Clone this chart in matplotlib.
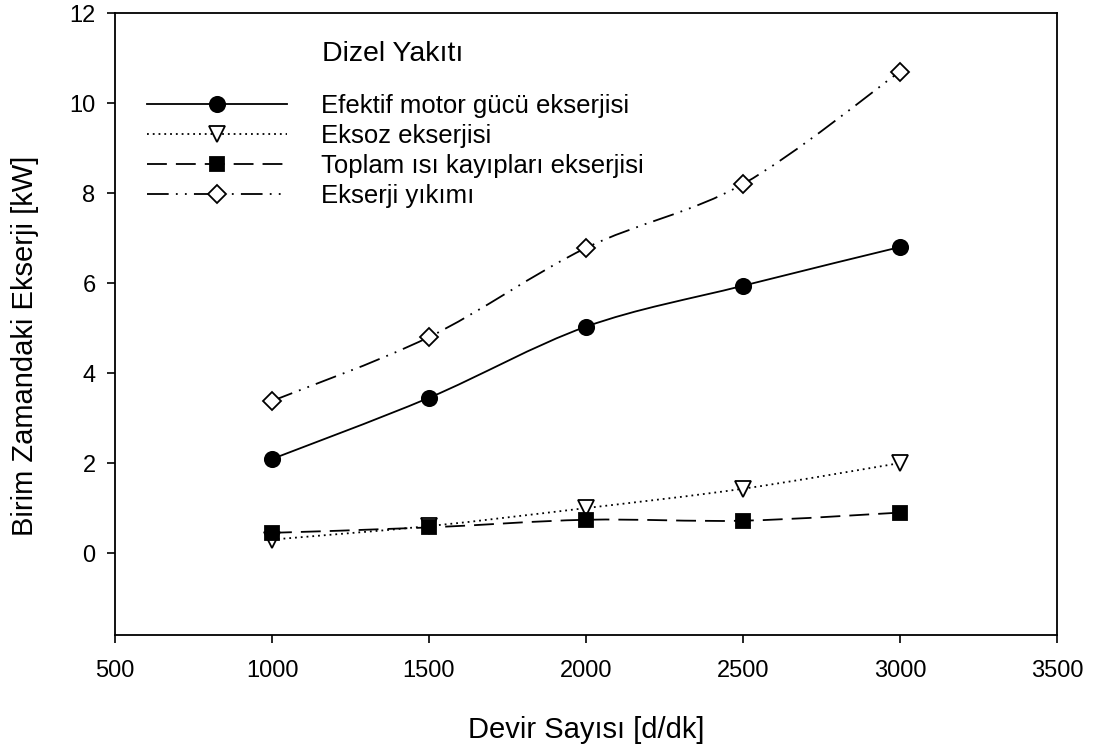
import numpy as np
import matplotlib.pyplot as plt
from matplotlib.path import Path
from matplotlib.patches import PathPatch
from matplotlib.lines import Line2D

plt.rcParams["font.family"] = ["Liberation Sans", "DejaVu Sans"]

# --------------------------
# Datos
# --------------------------
devir = [1000, 1500, 2000, 2500, 3000]
efektif = [2.09, 3.45, 5.03, 5.94, 6.80]
eksoz = [0.30, 0.60, 1.00, 1.43, 2.00]
toplam = [0.45, 0.57, 0.74, 0.72, 0.90]
yikim = [3.38, 4.80, 6.78, 8.20, 10.70]

etiquetas = ["Efektif motor gücü ekserjisi", "Eksoz ekserjisi",
             "Toplam ısı kayıpları ekserjisi", "Ekserji yıkımı"]
x_ticks = [500, 1000, 1500, 2000, 2500, 3000, 3500]
y_ticks = [0, 2, 4, 6, 8, 10, 12]


def smooth_path(x, y):
    """Curva suave (Catmull-Rom como Bezier cúbica) a través de los puntos."""
    pts = np.column_stack([np.asarray(x, float), np.asarray(y, float)])
    verts = [pts[0]]
    codes = [Path.MOVETO]
    n = len(pts)
    for i in range(n - 1):
        p0 = pts[i - 1] if i > 0 else pts[i]
        p1 = pts[i]
        p2 = pts[i + 1]
        p3 = pts[i + 2] if i + 2 < n else pts[i + 1]
        c1 = p1 + (p2 - p0) / 6.0
        c2 = p2 - (p3 - p1) / 6.0
        verts += [c1, c2, p2]
        codes += [Path.CURVE4] * 3
    return Path(verts, codes)


series = [
    (efektif, dict(marker="o", mfc="black", ms=11), "-"),
    (eksoz, dict(marker="v", mfc="white", ms=11), (0, (1, 2.2))),
    (toplam, dict(marker="s", mfc="black", ms=10), (0, (11, 5))),
    (yikim, dict(marker="D", mfc="white", ms=9.5), (0, (12, 4, 1, 4, 1, 4))),
]

fig = plt.figure(figsize=(10.94, 7.49), dpi=100)
ax = fig.add_axes([115 / 1094, 1 - 635 / 749, (1057 - 115) / 1094, (635 - 13) / 749])

handles = []
for (vals, mk, ls), lab in zip(series, etiquetas):
    patch = PathPatch(smooth_path(devir, vals), facecolor="none", edgecolor="black",
                      linewidth=1.3, linestyle=ls, zorder=2)
    ax.add_patch(patch)
    ax.plot(devir, vals, linestyle="none", marker=mk["marker"], markersize=mk["ms"],
            markerfacecolor=mk["mfc"], markeredgecolor="black", markeredgewidth=1.3, zorder=3)
    handles.append(Line2D([], [], color="black", linewidth=1.3, linestyle=ls,
                          marker=mk["marker"], markersize=mk["ms"],
                          markerfacecolor=mk["mfc"], markeredgecolor="black",
                          markeredgewidth=1.3, label=lab))

ax.set_xlim(500, 3500)
ax.set_ylim(-1.82, 12)
ax.set_xticks(x_ticks)
ax.set_yticks(y_ticks)
ax.tick_params(direction="out", length=6, width=1.2, labelsize=17, top=False, right=False)
ax.tick_params(axis="x", pad=12)
ax.tick_params(axis="y", pad=8)
for s in ax.spines.values():
    s.set_linewidth(1.3)

ax.set_xlabel("Devir Sayısı [d/dk]", fontsize=21)
ax.set_ylabel("Birim Zamandaki Ekserji [kW]", fontsize=21)
ax.xaxis.set_label_coords(0.5, -0.13)
ax.yaxis.set_label_coords(-0.081, 0.465)

fig.text(322 / 1094, 1 - 54 / 749, "Dizel Yakıtı", fontsize=20.5, va="center", ha="left")

leg = ax.legend(handles=handles, loc="upper left", bbox_to_anchor=(0.0233, 0.887),
                frameon=False, fontsize=18.5, handlelength=5.45, handletextpad=1.3,
                labelspacing=0.24, numpoints=1, borderaxespad=0)

fig.savefig("out.png", dpi=100)
